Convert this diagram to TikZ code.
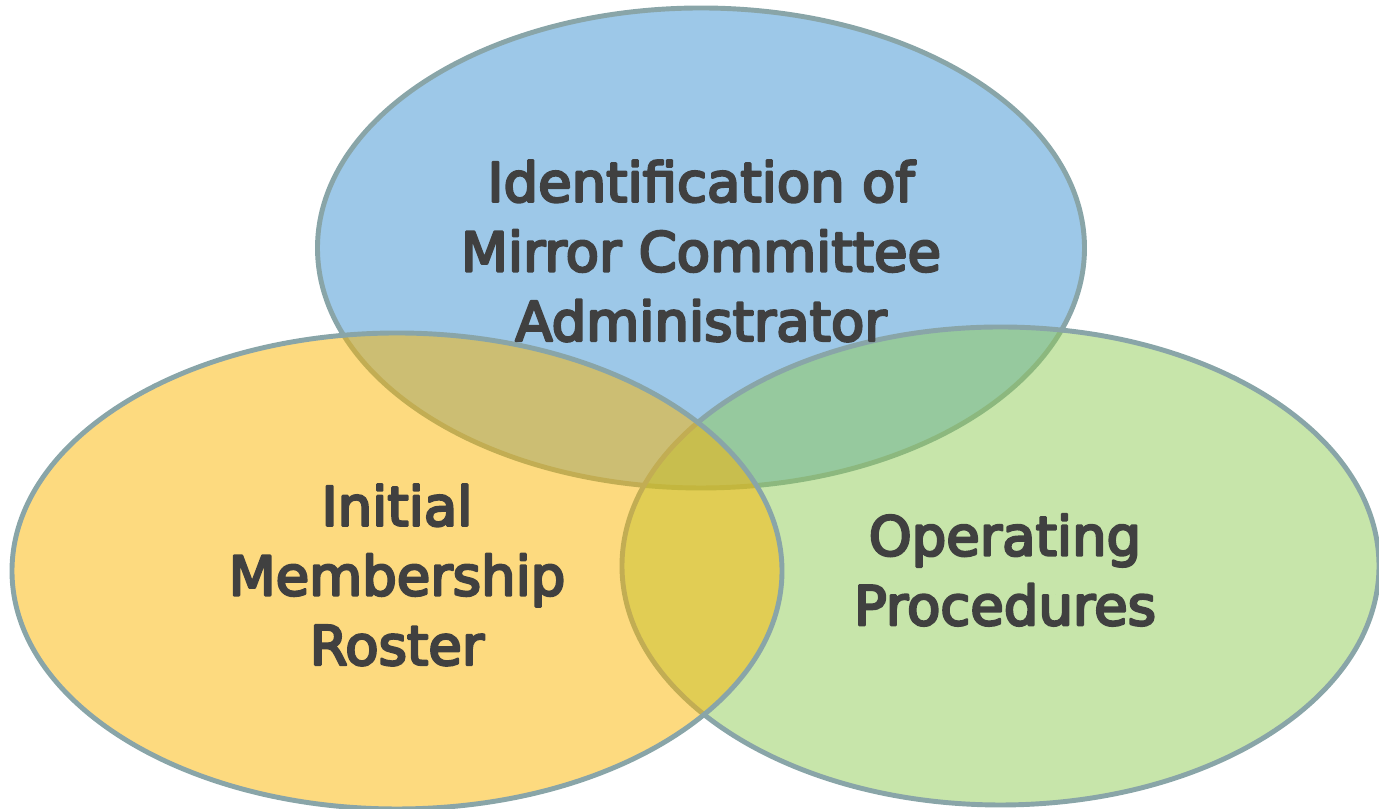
\documentclass[tikz,border=0pt]{standalone}
\usepackage{fontspec}
\setmainfont{DejaVu Sans}
\usepackage{tikz}
\usetikzlibrary{arrows}
\definecolor{rimgray}{RGB}{137,165,168}
\definecolor{adminblue}{RGB}{59,145,209}
\definecolor{rostergold}{RGB}{251,181,0}
\definecolor{procgreen}{RGB}{143,203,85}
\definecolor{labelgray}{RGB}{64,64,64}
% heavier strokes for the set labels
\newcommand{\heavytext}[1]{\special{pdf:literal direct 0.251 0.251 0.251 RG 2 Tr 0.7 w}#1\special{pdf:literal direct 0 Tr}}

\begin{document}
\begin{tikzpicture}[line cap=round,line join=round,x=1cm,y=1cm,
  circle set/.style={draw=rimgray,line width=1.4pt,fill opacity=0.5},
  set label/.style={align=center,text=labelgray,font=\fontsize{15.5}{19.8}\selectfont}]
\clip(0.,0.) rectangle (13.79,8.09);
\useasboundingbox (0.,0.) rectangle (13.79,8.09);
\draw [circle set,fill=adminblue] (7.01,5.61) ellipse (3.835 and 2.40);
\draw [circle set,fill=procgreen] (10.005,2.43) ellipse (3.785 and 2.39);
\draw [circle set,fill=rostergold] (3.97,2.38) ellipse (3.85 and 2.38);

\draw (7.01,5.58) node[set label] (admin) {\heavytext{Identification of} \\ \heavytext{Mirror Committee} \\ \heavytext{Administrator}};
\draw (3.97,2.34) node[set label] (roster) {\heavytext{Initial} \\ \heavytext{Membership} \\ \heavytext{Roster}};
\draw (10.05,2.39) node[set label] (proc) {\heavytext{Operating} \\ \heavytext{Procedures}};
\end{tikzpicture}
\end{document}
